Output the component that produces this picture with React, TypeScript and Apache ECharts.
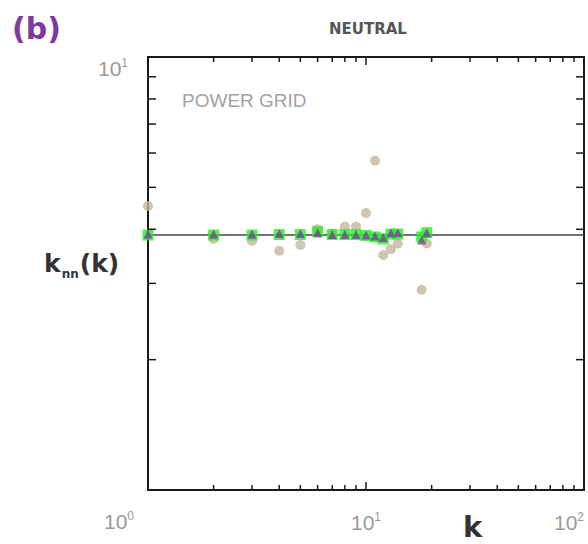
import React, { useEffect, useRef } from "react";
import * as echarts from "echarts";

const K = [1, 2, 3, 4, 5, 6, 7, 8, 9, 10, 11, 12, 13, 14, 18, 19];
const KNN_REAL = [4.53, 3.8, 3.76, 3.57, 3.68, 4.0, 3.9, 4.06, 4.06, 4.36, 5.76, 3.49, 3.6, 3.71, 2.9, 3.71];
const KNN_RANDOM = [3.88, 3.88, 3.88, 3.89, 3.89, 3.95, 3.89, 3.89, 3.89, 3.87, 3.84, 3.8, 3.9, 3.9, 3.84, 3.93];
const KNN_MODEL = [3.9, 3.9, 3.9, 3.91, 3.91, 3.93, 3.89, 3.89, 3.89, 3.88, 3.86, 3.83, 3.93, 3.93, 3.78, 3.93];
const NEUTRAL_LEVEL = 3.88;
const X_RANGE = [1, 100];
const Y_RANGE = [1, 10];
const X_MINOR = [2, 3, 4, 5, 6, 7, 8, 9, 10, 20, 30, 40, 50, 60, 70, 80, 90];
const Y_MINOR = [2, 3, 4, 5, 6, 7, 8, 9];
const X_TICK_LABELS: Record<number, string> = { 10: "1", 100: "2" };
const Y_TICK_LABELS: Record<number, string> = { 10: "1" };

const TICK_FONT = "Liberation Sans";
const TICK_COLOR = "#9a9a9a";

export default function App() {
  const ref = useRef<HTMLDivElement>(null);
  useEffect(() => {
    if (!ref.current) return;
    const chart = echarts.init(ref.current, null, { renderer: "svg" });
    const rich = {
      b: { fontSize: 21, fontFamily: TICK_FONT, color: TICK_COLOR, lineHeight: 22 },
      sup: { fontSize: 12, fontFamily: TICK_FONT, color: TICK_COLOR, verticalAlign: "top", lineHeight: 22, padding: [0, 0, 10, 0] },
    };
    chart.setOption({
      animation: false,
      backgroundColor: "#ffffff",
      grid: { left: 148, top: 57, right: 4, bottom: 54, show: true, borderColor: "#1a1a1a", borderWidth: 2, backgroundColor: "transparent" },
      xAxis: {
        type: "log",
        logBase: 10,
        min: X_RANGE[0],
        max: X_RANGE[1],
        axisLine: { show: false },
        axisTick: { show: false },
        splitLine: { show: false },
        axisLabel: {
          margin: 21,
          alignMaxLabel: "right",
          formatter: (v: number) => (X_TICK_LABELS[Math.round(v)] ? `{b|10}{sup|${X_TICK_LABELS[Math.round(v)]}}` : ""),
          rich,
        },
      },
      yAxis: {
        type: "log",
        logBase: 10,
        min: Y_RANGE[0],
        max: Y_RANGE[1],
        axisLine: { show: false },
        axisTick: { show: false },
        splitLine: { show: false },
        axisLabel: {
          margin: 20,
          verticalAlign: "top",
          formatter: (v: number) => (Y_TICK_LABELS[Math.round(v)] ? `{b|10}{sup|${Y_TICK_LABELS[Math.round(v)]}}` : ""),
          rich,
        },
      },
      graphic: [
        { type: "text", left: 12, top: 13, style: { text: "(b)", fontSize: 30, fontWeight: "bold", fontFamily: "DejaVu Sans", fill: "#7b3a9c" } },
        { type: "text", left: 329, top: 21, style: { text: "NEUTRAL", fontSize: 15, fontWeight: "bold", fontFamily: "DejaVu Sans", fill: "#555555" } },
        { type: "text", left: 182, top: 91, style: { text: "POWER GRID", fontSize: 19, fontFamily: "Liberation Sans", fill: "#a3a3a3" } },
        {
          type: "text", left: 44, top: 246,
          style: {
            text: "{m|k}{s|nn}{m|(k)}",
            rich: {
              m: { fontSize: 25, fontWeight: "bold", fontFamily: "DejaVu Sans", fill: "#333333", lineHeight: 30 },
              s: { fontSize: 12, fontWeight: "bold", fontFamily: "DejaVu Sans", fill: "#333333", lineHeight: 30, padding: [22, 1, 0, 1] },
            },
          },
        },
        { type: "text", left: 463, top: 512, style: { text: "k", fontSize: 29, fontWeight: "bold", fontFamily: "DejaVu Sans", fill: "#333333" } },
        {
          type: "text", left: 104, top: 510,
          style: {
            text: "{b|10}{sup|0}",
            rich: {
              b: { fontSize: 21, fontFamily: TICK_FONT, fill: TICK_COLOR, lineHeight: 22 },
              sup: { fontSize: 12, fontFamily: TICK_FONT, fill: TICK_COLOR, verticalAlign: "top", lineHeight: 22, padding: [0, 0, 10, 0] },
            },
          },
        },
      ],
      series: [
        {
          type: "line",
          data: [[X_RANGE[0], NEUTRAL_LEVEL], [X_RANGE[1], NEUTRAL_LEVEL]],
          symbol: "none",
          lineStyle: { color: "#444444", width: 1.5 },
          z: 1,
        },
        {
          type: "scatter",
          data: K.map((k, i) => [k, KNN_REAL[i]]),
          symbol: "circle",
          symbolSize: 10,
          itemStyle: { color: "#c5b79d" },
          z: 2,
        },
        {
          type: "scatter",
          data: K.map((k, i) => [k, KNN_RANDOM[i]]),
          symbol: "rect",
          symbolSize: 11,
          itemStyle: { color: "#22f022" },
          z: 3,
        },
        {
          type: "scatter",
          data: K.map((k, i) => [k, KNN_MODEL[i]]),
          symbol: "triangle",
          symbolSize: 9,
          itemStyle: { color: "#7a3fa0" },
          z: 4,
        },
        {
          type: "custom",
          clip: false,
          silent: true,
          data: X_MINOR.map((k) => [k, Y_RANGE[0]]),
          renderItem: (params: any, api: any) => {
            const x = api.value(0);
            const b = api.coord([x, Y_RANGE[0]]);
            const t = api.coord([x, Y_RANGE[1]]);
            const len = x === 10 ? 8 : 5;
            const style = { stroke: "#1a1a1a", lineWidth: 1.5 };
            return {
              type: "group",
              children: [
                { type: "line", shape: { x1: b[0], y1: b[1], x2: b[0], y2: b[1] - len }, style },
                { type: "line", shape: { x1: t[0], y1: t[1], x2: t[0], y2: t[1] + len }, style },
              ],
            };
          },
          z: 5,
        },
        {
          type: "custom",
          clip: false,
          silent: true,
          data: Y_MINOR.map((v) => [X_RANGE[0], v]),
          renderItem: (params: any, api: any) => {
            const y = api.value(1);
            const l = api.coord([X_RANGE[0], y]);
            const r = api.coord([X_RANGE[1], y]);
            const style = { stroke: "#1a1a1a", lineWidth: 1.5 };
            return {
              type: "group",
              children: [
                { type: "line", shape: { x1: l[0], y1: l[1], x2: l[0] + 8, y2: l[1] }, style },
                { type: "line", shape: { x1: r[0], y1: r[1], x2: r[0] - 8, y2: r[1] }, style },
              ],
            };
          },
          z: 5,
        },
      ],
    });
    return () => chart.dispose();
  }, []);
  return <div ref={ref} style={{ width: 588, height: 544, position: "absolute", left: 0, top: 0 }} />;
}
